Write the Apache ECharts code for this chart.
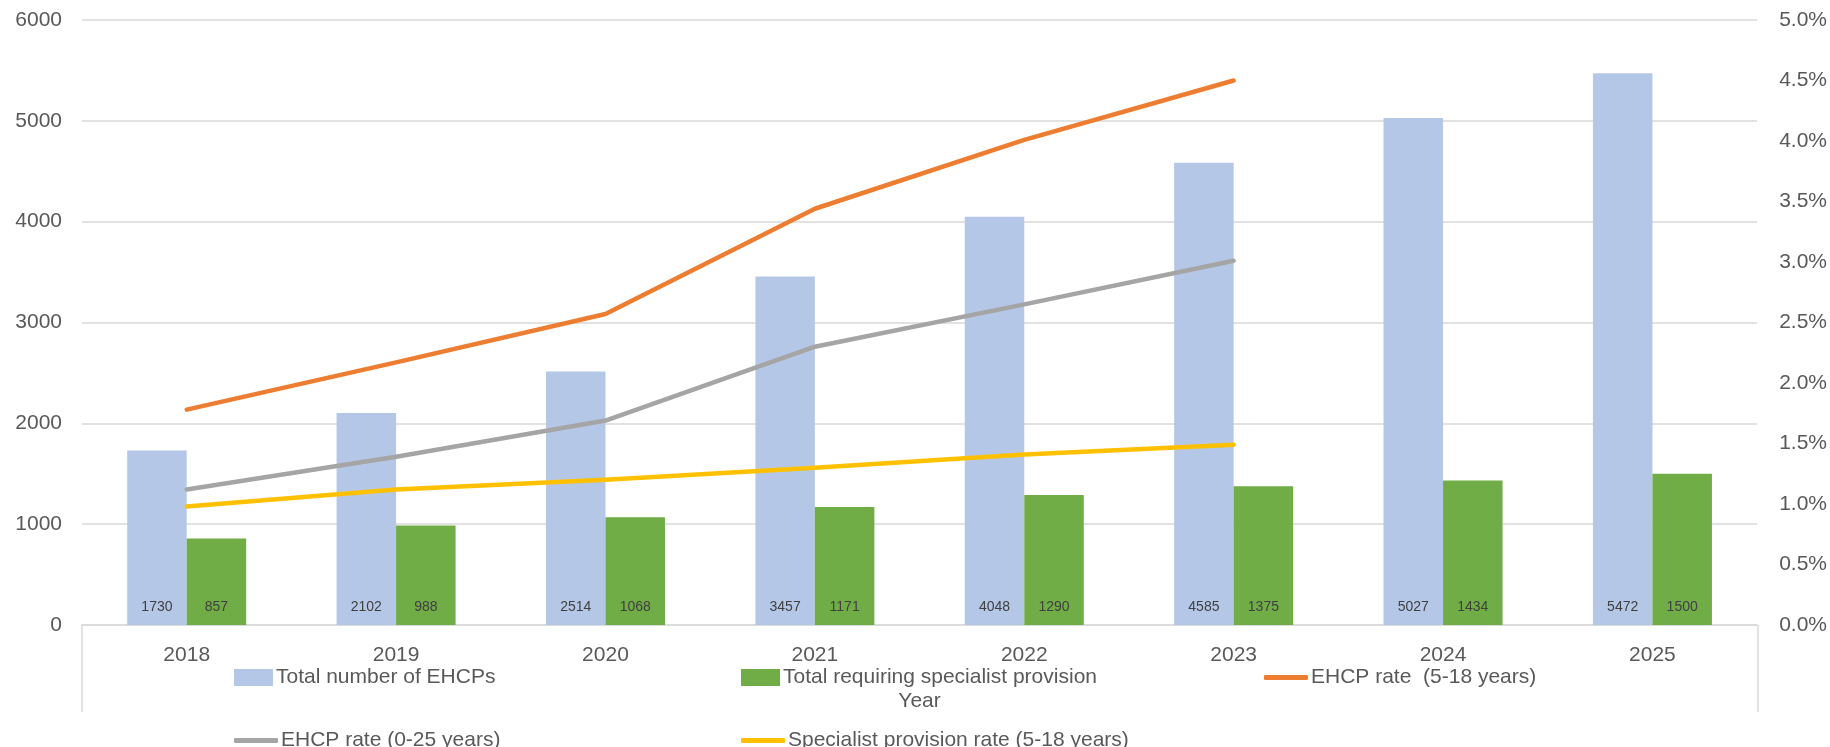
<!DOCTYPE html>
<html>
<head>
<meta charset="utf-8">
<script src="https://cdn.jsdelivr.net/npm/echarts@6/dist/echarts.min.js"></script>
<style>
html,body{margin:0;padding:0;background:#fff;}
#chart{width:1830px;height:747px;}
</style>
</head>
<body>
<div id="chart"></div>
<script>
const years = ['2018','2019','2020','2021','2022','2023','2024','2025'];
const totalEHCPs = [1730, 2102, 2514, 3457, 4048, 4585, 5027, 5472];
const specialistTotal = [857, 988, 1068, 1171, 1290, 1375, 1434, 1500];
const rate5to18 = [1.78, 2.17, 2.57, 3.44, 4.01, 4.50, null, null];
const rate0to25 = [1.12, 1.39, 1.69, 2.30, 2.65, 3.01, null, null];
const specialistRate = [0.98, 1.12, 1.20, 1.30, 1.41, 1.49, null, null];
const leftTicks = { min: 0, max: 6000, interval: 1000 };
const rightTicks = { min: 0, max: 5, interval: 0.5 };

const FONT = 'Liberation Sans';
const FS = 21;
const chart = echarts.init(document.getElementById('chart'), null, { renderer: 'canvas' });

const gridLeft = 82, gridRight = 72, gridTop = 20, gridBottom = 122;
const W = 1830, H = 747;

function legendItem(name, left, top, isLine) {
  return {
    data: [name],
    left: left, top: top,
    orient: 'horizontal',
    icon: isLine ? 'roundRect' : 'rect',
    itemWidth: isLine ? 44 : 39,
    itemHeight: isLine ? 5 : 17,
    itemGap: 4,
    selectedMode: false,
    textStyle: { fontFamily: FONT, fontSize: FS, color: '#595959', padding: [0, 0, 0, -2] }
  };
}

const lineStyleBase = { width: 4.5, cap: 'round', join: 'round' };

chart.setOption({
  animation: false,
  backgroundColor: '#ffffff',
  textStyle: { fontFamily: FONT },
  grid: { left: gridLeft, right: gridRight, top: gridTop, bottom: gridBottom, containLabel: false },
  legend: [
    legendItem('Total number of EHCPs', 229, 662, false),
    legendItem('Total requiring specialist provision', 736, 662, false),
    legendItem('EHCP rate  (5-18 years)', 1259, 662, true),
    legendItem('EHCP rate (0-25 years)', 229, 725, true),
    legendItem('Specialist provision rate (5-18 years)', 736, 725, true)
  ],
  xAxis: {
    type: 'category',
    data: years,
    name: 'Year',
    nameLocation: 'middle',
    nameGap: 66,
    nameTextStyle: { fontFamily: FONT, fontSize: FS, color: '#595959' },
    axisLine: { show: true, lineStyle: { color: '#d9d9d9', width: 1.5 } },
    axisTick: { show: false },
    axisLabel: { fontFamily: FONT, fontSize: FS, color: '#595959', margin: 20 },
    splitLine: { show: false }
  },
  yAxis: [
    {
      type: 'value',
      min: leftTicks.min, max: leftTicks.max, interval: leftTicks.interval,
      axisLine: { show: false }, axisTick: { show: false },
      axisLabel: { fontFamily: FONT, fontSize: FS, color: '#595959', margin: 20,
        formatter: v => String(v) },
      splitLine: { show: true, lineStyle: { color: '#d9d9d9', width: 1.5 } }
    },
    {
      type: 'value',
      position: 'right',
      min: rightTicks.min, max: rightTicks.max, interval: rightTicks.interval,
      axisLine: { show: false }, axisTick: { show: false },
      axisLabel: { fontFamily: FONT, fontSize: FS, color: '#595959', margin: 22,
        formatter: v => v.toFixed(1) + '%' },
      splitLine: { show: false }
    }
  ],
  series: [
    {
      name: 'Total number of EHCPs', type: 'bar', data: totalEHCPs,
      barWidth: 59.5, barGap: '0%',
      itemStyle: { color: '#b4c7e7' },
      label: { show: true, position: 'insideBottom', distance: 11,
        fontFamily: FONT, fontSize: 14, color: '#404040' }
    },
    {
      name: 'Total requiring specialist provision', type: 'bar', data: specialistTotal,
      barWidth: 59.5, barGap: '0%',
      itemStyle: { color: '#70ad47' },
      label: { show: true, position: 'insideBottom', distance: 11,
        fontFamily: FONT, fontSize: 14, color: '#404040' }
    },
    {
      name: 'EHCP rate  (5-18 years)', type: 'line', yAxisIndex: 1, data: rate5to18,
      symbol: 'none', itemStyle: { color: '#ed7d31' },
      lineStyle: Object.assign({ color: '#ed7d31' }, lineStyleBase), z: 5
    },
    {
      name: 'EHCP rate (0-25 years)', type: 'line', yAxisIndex: 1, data: rate0to25,
      symbol: 'none', itemStyle: { color: '#a5a5a5' },
      lineStyle: Object.assign({ color: '#a5a5a5' }, lineStyleBase), z: 5
    },
    {
      name: 'Specialist provision rate (5-18 years)', type: 'line', yAxisIndex: 1, data: specialistRate,
      symbol: 'none', itemStyle: { color: '#ffc000' },
      lineStyle: Object.assign({ color: '#ffc000' }, lineStyleBase), z: 5
    }
  ],
  graphic: [
    { type: 'line', silent: true, shape: { x1: gridLeft, y1: H - gridBottom, x2: gridLeft, y2: 712 },
      style: { stroke: '#d9d9d9', lineWidth: 1.5 } },
    { type: 'line', silent: true, shape: { x1: W - gridRight, y1: H - gridBottom, x2: W - gridRight, y2: 712 },
      style: { stroke: '#d9d9d9', lineWidth: 1.5 } }
  ]
});
</script>
</body>
</html>
